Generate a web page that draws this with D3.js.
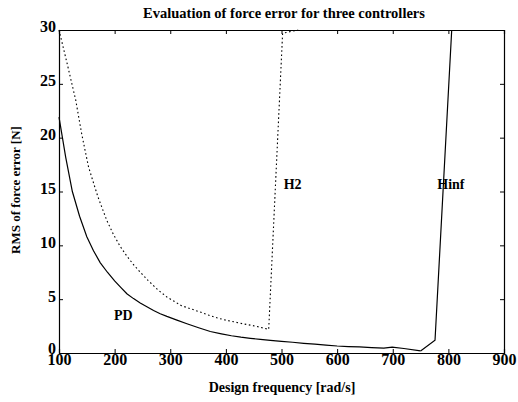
<!DOCTYPE html>
<html><head><meta charset="utf-8">
<script src="https://cdn.jsdelivr.net/npm/d3@7"></script>
<style>body{margin:0;background:#fff}svg{display:block}text{font-family:"Liberation Serif","Times New Roman",serif;fill:#000}</style>
</head><body>
<svg id="c" width="518" height="402"></svg>
<script>
const xTicks = [100,200,300,400,500,600,700,800,900];
const yTicks = [0,5,10,15,20,25,30];
const pdFreq = [100,112,124,137,150,162,174,187,200,211,222,234,246,258,270,282,294,312,330,351,372,392,410,427,444,462,480,500,520,540,560,580,600,620,640,662,684,699,720,750];
const pdRms  = [21.9,18.2,15.0,12.7,10.8,9.5,8.4,7.5,6.7,6.1,5.5,5.05,4.65,4.3,3.95,3.65,3.4,3.05,2.72,2.35,2.0,1.78,1.6,1.47,1.36,1.26,1.18,1.08,1.0,0.9,0.82,0.73,0.65,0.6,0.56,0.5,0.45,0.54,0.42,0.19];
const h2Freq = [100,115,130,141,153,162,170,178,186,198,210,222,234,247,260,277,294,307,320,337,354,370,385,400,414,430,445,461,477,502,530];
const h2Rms  = [30,26.8,23.5,20.3,17.3,15.8,14.5,13.4,12.3,11.0,9.9,9.0,8.2,7.45,6.75,5.9,5.2,4.8,4.4,4.1,3.8,3.5,3.25,3.05,2.9,2.72,2.58,2.4,2.2,29.7,30];
const hinfFreq = [750,776,806];
const hinfRms  = [0.19,1.18,30];
const labels = [{t:"PD",x:199,y:3.06},{t:"H2",x:504,y:15.2},{t:"Hinf",x:780,y:15.2}];

const svg = d3.select("#c");
const m = {l:59, r:504, t:30, b:353};
const x = d3.scaleLinear().domain([100,900]).range([m.l,m.r]);
const y = d3.scaleLinear().domain([0,30]).range([m.b,m.t]);

svg.append("text").attr("x",284).attr("y",18).attr("text-anchor","middle")
  .attr("font-size",14.5).attr("font-weight","bold").text("Evaluation of force error for three controllers");
svg.append("text").attr("x",282).attr("y",392).attr("text-anchor","middle")
  .attr("font-size",14).attr("font-weight","bold").text("Design frequency [rad/s]");
svg.append("text").attr("transform","translate(20,190) rotate(-90)").attr("text-anchor","middle")
  .attr("font-size",13).attr("font-weight","bold").text("RMS of force error [N]");

const tl = 4;
const gx = svg.append("g").attr("transform",`translate(0,${m.b})`)
  .call(d3.axisBottom(x).tickValues(xTicks).tickSize(-tl).tickPadding(2).tickFormat(d3.format("d")));
const gxt = svg.append("g").attr("transform",`translate(0,${m.t})`)
  .call(d3.axisTop(x).tickValues(xTicks).tickSize(-tl).tickFormat(""));
const gy = svg.append("g").attr("transform",`translate(${m.l},0)`)
  .call(d3.axisLeft(y).tickValues(yTicks).tickSize(-tl).tickPadding(3).tickFormat(d3.format("d")));
const gyr = svg.append("g").attr("transform",`translate(${m.r},0)`)
  .call(d3.axisRight(y).tickValues(yTicks).tickSize(-tl).tickFormat(""));
[gx,gxt,gy,gyr].forEach(g=>{
  g.select(".domain").attr("stroke","#000").attr("stroke-width",1.2);
  g.selectAll(".tick line").attr("stroke","#000").attr("stroke-width",1);
  g.selectAll("text").attr("font-family","Liberation Serif, serif").attr("font-size",16).attr("font-weight","bold").attr("fill","#000");
});
gx.selectAll("text").attr("dy","0.62em");
gy.selectAll("text").attr("dy",d=>d===0?"0.02em":"0.12em");

const line = d3.line().x(d=>x(d[0])).y(d=>y(d[1]));
const g = svg.append("g");
g.append("path").datum(pdFreq.map((f,i)=>[f,pdRms[i]])).attr("d",line)
  .attr("fill","none").attr("stroke","#000").attr("stroke-width",1.2);
g.append("path").datum(hinfFreq.map((f,i)=>[f,hinfRms[i]])).attr("d",line)
  .attr("fill","none").attr("stroke","#000").attr("stroke-width",1.2);
g.append("path").datum(h2Freq.map((f,i)=>[f,h2Rms[i]])).attr("d",line)
  .attr("fill","none").attr("stroke","#000").attr("stroke-width",1.1).attr("stroke-dasharray","1.6,2.6");

labels.forEach(l=>{
  svg.append("text").attr("x",x(l.x)).attr("y",y(l.y)).attr("font-size",14).attr("font-weight","bold").text(l.t);
});
</script>
</body></html>
